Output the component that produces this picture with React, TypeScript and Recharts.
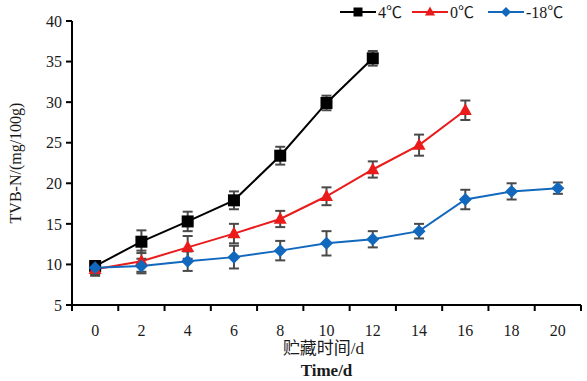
import { LineChart, Line, XAxis, YAxis, ErrorBar, Legend } from 'recharts'

const days = [0, 2, 4, 6, 8, 10, 12, 14, 16, 18, 20]
const t4 = [9.8, 12.8, 15.3, 17.9, 23.4, 29.9, 35.4]
const t4Err = [0.6, 1.4, 1.2, 1.1, 1.1, 0.9, 0.9]
const t0 = [9.4, 10.4, 12.1, 13.8, 15.6, 18.4, 21.7, 24.7, 29.0]
const t0Err = [0.8, 1.3, 1.4, 1.2, 1.0, 1.1, 1.0, 1.3, 1.2]
const tm18 = [9.6, 9.8, 10.4, 10.9, 11.7, 12.6, 13.1, 14.1, 18.0, 19.0, 19.4]
const tm18Err = [0.8, 0.9, 1.2, 1.4, 1.2, 1.5, 1.0, 0.9, 1.2, 1.0, 0.7]
const yTicks = [5, 10, 15, 20, 25, 30, 35, 40]
const xTicks = [-1, 0, 1, 2, 3, 4, 5, 6, 7, 8, 9, 10, 11, 12, 13, 14, 15, 16, 17, 18, 19, 20, 21]

const FONT = "'Liberation Serif', 'Times New Roman', 'Noto Sans CJK SC', serif"
const BLACK = '#000000'
const RED = '#ea1b1b'
const BLUE = '#1268bd'
const ERR = '#4a4a4a'
const TXT = '#1a1a1a'

const data = days.map((d, i) => ({
    day: d,
    t4: t4[i] ?? null,
    t4Err: t4Err[i] ?? null,
    t0: t0[i] ?? null,
    t0Err: t0Err[i] ?? null,
    tm18: tm18[i] ?? null,
    tm18Err: tm18Err[i] ?? null,
}))

function Square({ cx, cy, s, color }: any) {
    return <rect x={cx - s / 2} y={cy - s / 2} width={s} height={s} fill={color} />
}
function Triangle({ cx, cy, s, color }: any) {
    const h = s * 0.9
    return <polygon points={`${cx},${cy - h * 0.6} ${cx - s / 2},${cy + h * 0.4} ${cx + s / 2},${cy + h * 0.4}`} fill={color} />
}
function Diamond({ cx, cy, s, color }: any) {
    const r = s / 2
    return <polygon points={`${cx},${cy - r} ${cx + r},${cy} ${cx},${cy + r} ${cx - r},${cy}`} fill={color} />
}

const series = [
    { key: 't4', err: 't4Err', name: '4℃', color: BLACK, Shape: Square, size: 12 },
    { key: 't0', err: 't0Err', name: '0℃', color: RED, Shape: Triangle, size: 13 },
    { key: 'tm18', err: 'tm18Err', name: '-18℃', color: BLUE, Shape: Diamond, size: 13 },
]

const DayTick = (props: any) => {
    const { x, y, payload } = props
    const v = payload.value
    if (Math.abs(v % 2) === 1) {
        return <line x1={x} x2={x} y1={y} y2={y + 6} stroke={BLACK} strokeWidth={2} />
    }
    return (
        <text x={x} y={y + 25} textAnchor="middle" dominantBaseline="central" fontSize={16} fill={TXT} style={{ fontFamily: FONT }}>
            {v}
        </text>
    )
}

const LegendBox = () => (
    <svg width={250} height={24} style={{ fontFamily: FONT }}>
        {series.map((s, i) => {
            const x0 = [5, 77, 153][i]
            const { Shape } = s
            return (
                <g key={s.key}>
                    <line x1={x0} x2={x0 + 36} y1={12} y2={12} stroke={s.color} strokeWidth={2} />
                    <Shape cx={x0 + 18} cy={12} s={s.key === 't4' ? 9 : 10} color={s.color} />
                    <text x={x0 + 38} y={12} dominantBaseline="central" fontSize={16} fill={TXT} style={{ fontFamily: FONT }}>
                        {s.name}
                    </text>
                </g>
            )
        })}
    </svg>
)

export default function App() {
    return (
        <div style={{ position: 'absolute', left: 0, top: 0, width: 587, height: 381, background: '#fff', fontFamily: FONT }}>
            <LineChart width={587} height={381} data={data} margin={{ top: 21, right: 6, bottom: 0, left: 0 }}>
                <XAxis
                    dataKey="day"
                    type="number"
                    domain={[-1, 21]}
                    ticks={xTicks}
                    interval={0}
                    height={76}
                    tickLine={false}
                    tickSize={0}
                    tickMargin={0}
                    axisLine={{ stroke: BLACK, strokeWidth: 2 }}
                    tick={<DayTick />}
                    label={{
                        content: (p: any) => {
                            const vb = p.viewBox
                            const cx = vb.x + vb.width / 2
                            return (
                                <g fill={TXT} style={{ fontFamily: FONT }}>
                                    <text x={cx - 3} y={vb.y + 43} textAnchor="middle" dominantBaseline="central" fontSize={17}>
                                        贮藏时间/d
                                    </text>
                                    <text x={cx} y={vb.y + 65} textAnchor="middle" dominantBaseline="central" fontSize={17} fontWeight="bold">
                                        Time/d
                                    </text>
                                </g>
                            )
                        },
                    }}
                />
                <YAxis
                    type="number"
                    domain={[5, 40]}
                    ticks={yTicks}
                    width={72}
                    tickSize={6}
                    tickMargin={4}
                    axisLine={{ stroke: BLACK, strokeWidth: 2 }}
                    tickLine={{ stroke: BLACK, strokeWidth: 2 }}
                    tick={{ fontSize: 16, fill: TXT, style: { fontFamily: FONT } }}
                    label={{
                        content: (p: any) => {
                            const vb = p.viewBox
                            const cy = vb.y + vb.height / 2
                            return (
                                <text
                                    x={15}
                                    y={cy}
                                    transform={`rotate(-90 15 ${cy})`}
                                    textAnchor="middle"
                                    dominantBaseline="central"
                                    fontSize={16}
                                    fill={TXT}
                                    style={{ fontFamily: FONT }}
                                >
                                    TVB-N/(mg/100g)
                                </text>
                            )
                        },
                    }}
                />
                <Legend
                    layout="vertical"
                    align="center"
                    verticalAlign="middle"
                    content={<LegendBox />}
                    wrapperStyle={{ position: 'absolute', top: 0, left: 335, width: 250, height: 24 }}
                />
                {series.map((s) => (
                    <Line
                        key={s.key}
                        dataKey={s.key}
                        name={s.name}
                        stroke={s.color}
                        strokeWidth={2}
                        type="linear"
                        isAnimationActive={false}
                        activeDot={false}
                        dot={(p: any) =>
                            p.cx == null || p.cy == null || p.value == null ? (
                                <g key={p.index} />
                            ) : (
                                <s.Shape key={p.index} cx={p.cx} cy={p.cy} s={s.size} color={s.color} />
                            )
                        }
                    >
                        <ErrorBar dataKey={s.err} direction="y" width={5} stroke={ERR} strokeWidth={2} />
                    </Line>
                ))}
            </LineChart>
        </div>
    )
}
